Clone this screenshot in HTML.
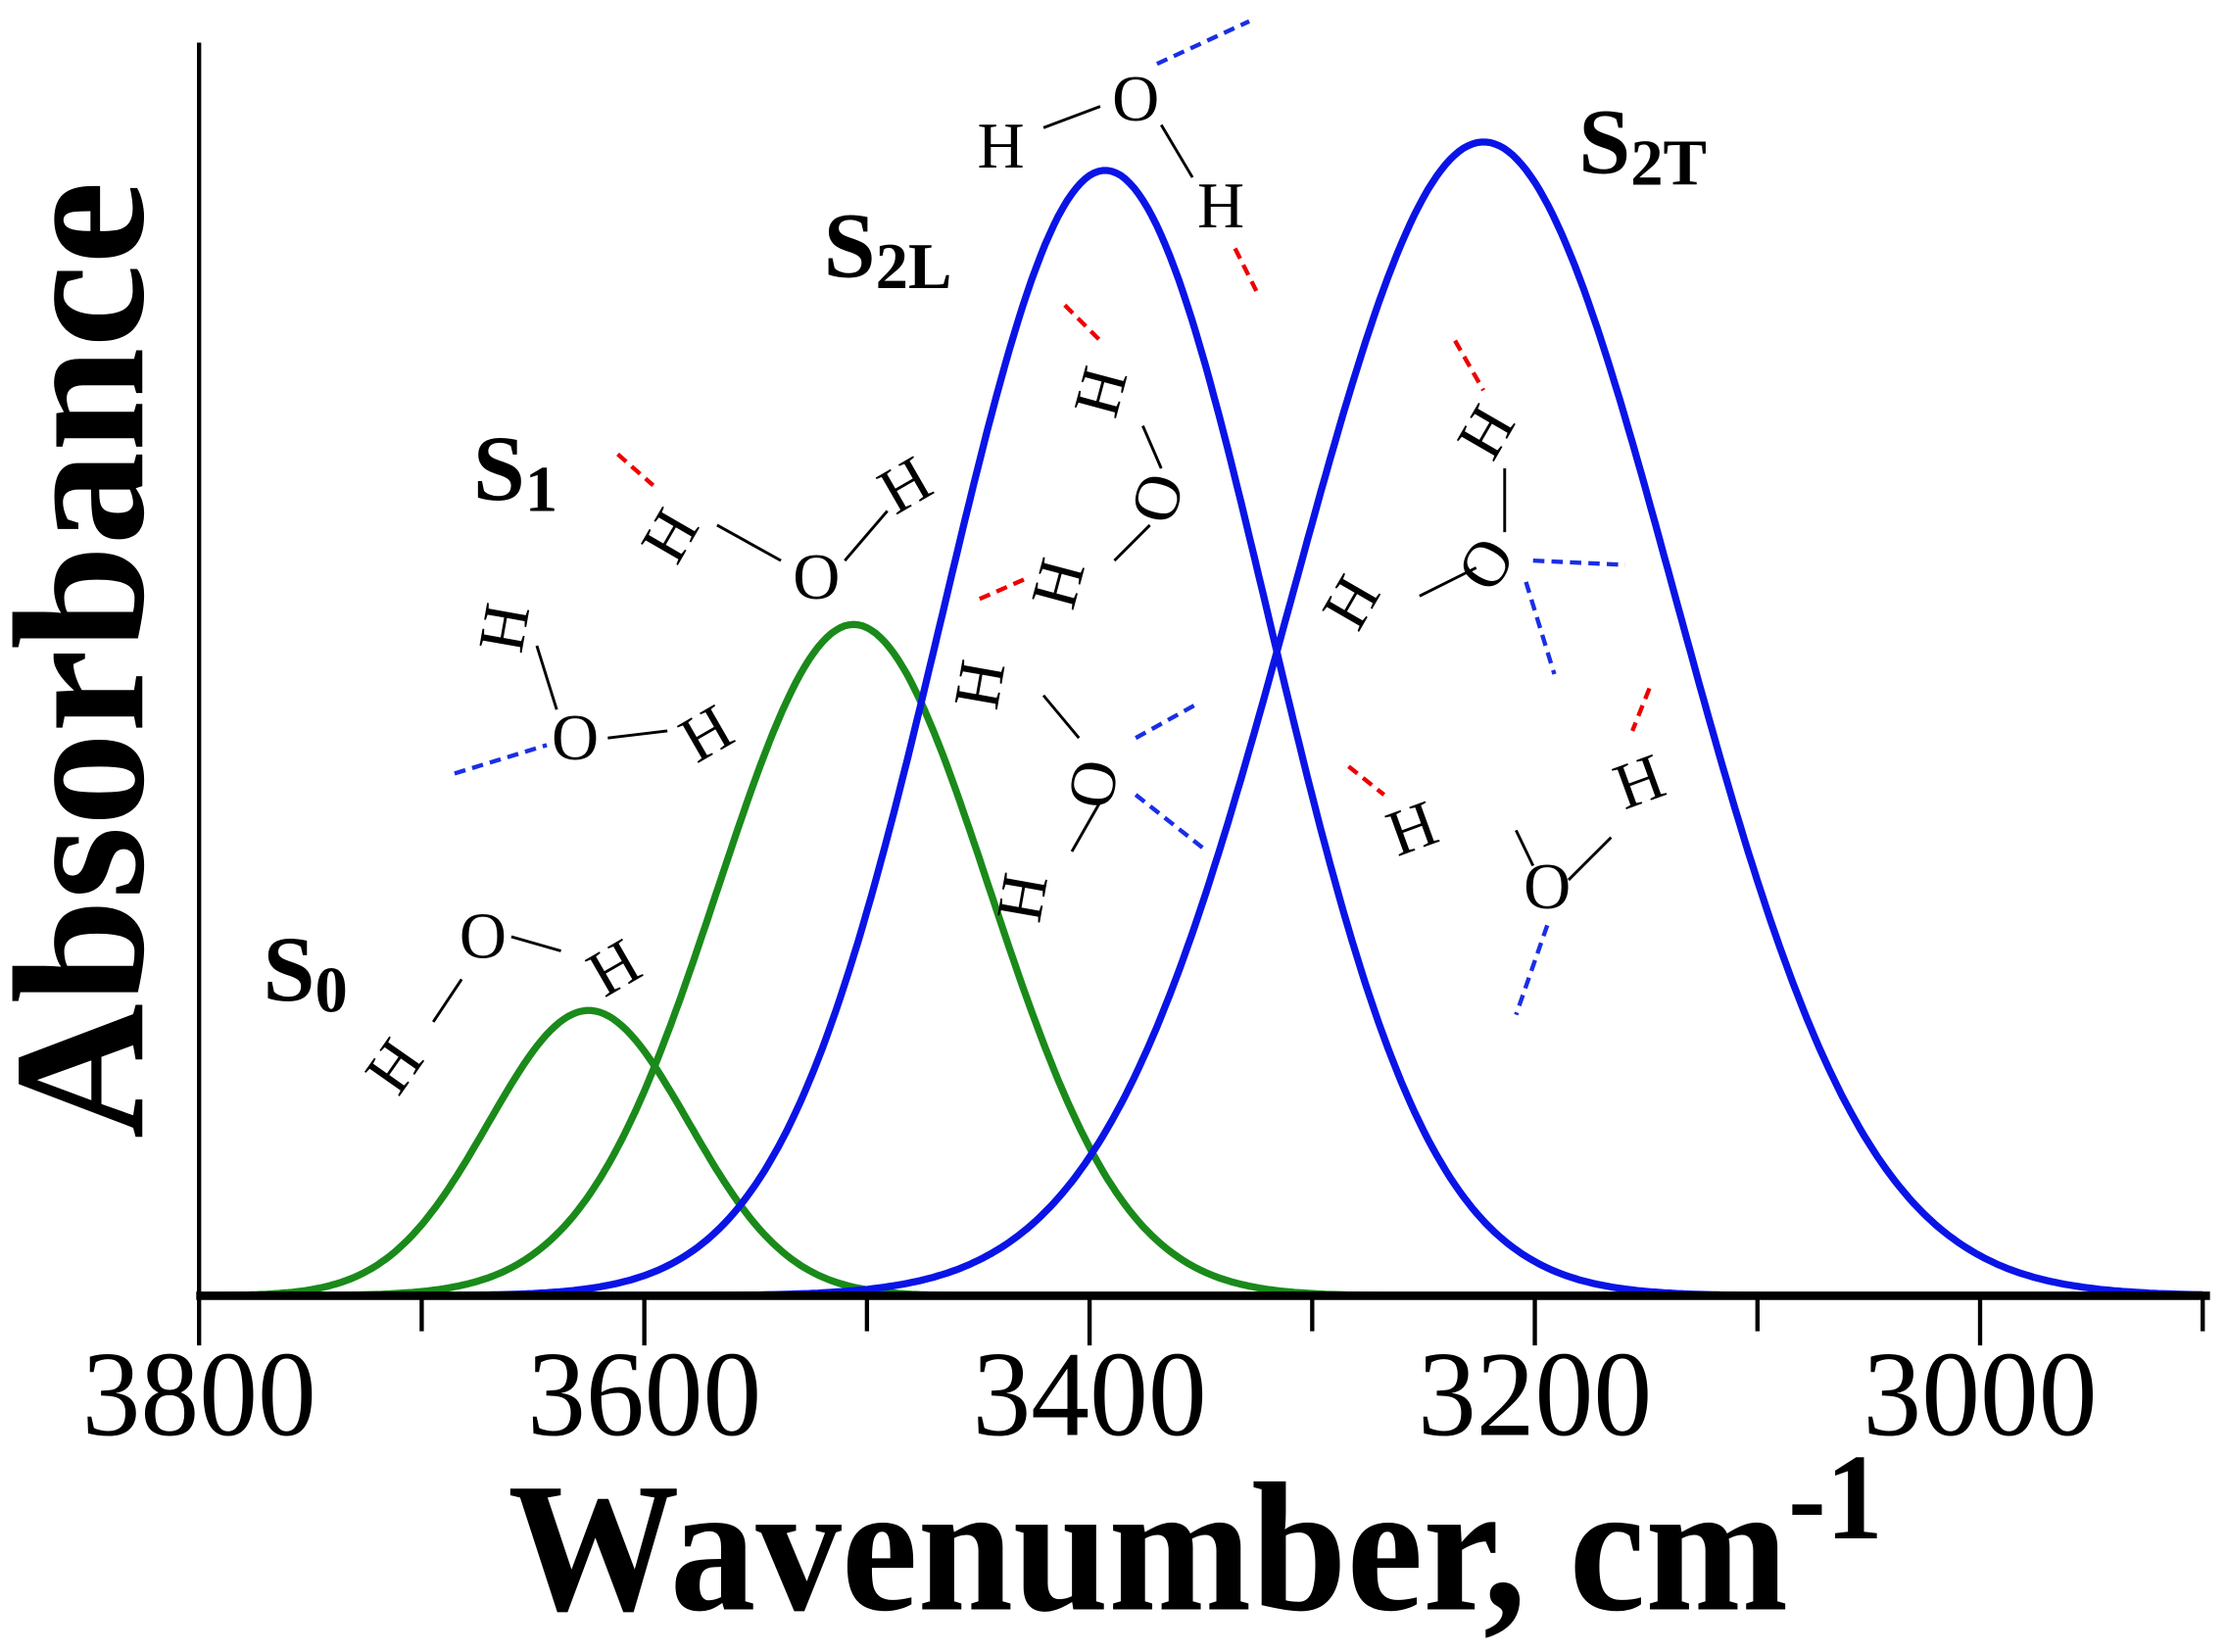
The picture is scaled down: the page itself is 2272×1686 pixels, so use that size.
<!DOCTYPE html>
<html><head><meta charset="utf-8"><style>
html,body{margin:0;padding:0;background:#fff;}
svg{display:block;}
text{font-family:"Liberation Serif",serif;}
</style></head><body>
<svg id="chart" width="2272" height="1686" viewBox="0 0 1568 1164" xmlns="http://www.w3.org/2000/svg">
<g id="curves"></g>
<line x1="140" y1="30" x2="140" y2="915" stroke="#000" stroke-width="3"/>
<line x1="138" y1="913" x2="1557" y2="913" stroke="#000" stroke-width="6"/>
<g id="ticks"></g>
<text transform="translate(100,465) rotate(-90)" text-anchor="middle" font-weight="bold" font-size="132" font-family="Liberation Serif,serif">Absorbance</text>
<text x="842" y="1134" text-anchor="middle" font-weight="bold" font-size="130" transform="translate(842,0) scale(0.93,1) translate(-842,0)">Wavenumber, cm<tspan font-size="86" dy="-50">-1</tspan></text>
<g font-weight="bold" font-size="66">
<text x="185" y="705">S<tspan font-size="46" dy="8">0</tspan></text>
<text x="333" y="352">S<tspan font-size="46" dy="8">1</tspan></text>
<text x="580" y="195">S<tspan font-size="46" dy="8">2L</tspan></text>
<text x="1112" y="122">S<tspan font-size="46" dy="8">2T</tspan></text>
</g>
<g id="mol" font-size="46" fill="#000"></g>
</svg>
<script>
// peak parameters
const peakNames=["S0","S1","S2L","S2T"];
const peakCenters=[3625,3506,3393,3223];
const peakHeights=[201,473,793,813];
const peakWidths=[45,61,73,86];
const peakColors=["#1a8a1a","#1a8a1a","#0a14e6","#0a14e6"];
const tickValues=[3800,3700,3600,3500,3400,3300,3200,3100,3000,2900];
const tickLabels=["3800","","3600","","3400","","3200","","3000",""];
const NS="http://www.w3.org/2000/svg";
const X=v=>140+(3800-v)/200*313.75;
const Y=a=>913-a;
const cg=document.getElementById('curves');
peakNames.forEach((n,i)=>{
  let d="";
  for(let v=3800;v>=2900;v-=2){
    const a=peakHeights[i]*Math.exp(-0.5*Math.pow((v-peakCenters[i])/peakWidths[i],2));
    d+=(v===3800?"M":"L")+X(v).toFixed(1)+","+Y(a).toFixed(1);
  }
  const p=document.createElementNS(NS,'path');
  p.setAttribute('d',d);p.setAttribute('fill','none');p.setAttribute('stroke',peakColors[i]);p.setAttribute('stroke-width','5');
  
  
  cg.appendChild(p);
});
const tg=document.getElementById('ticks');
tickValues.forEach((v,i)=>{
  const major=tickLabels[i]!=="";
  const l=document.createElementNS(NS,'line');
  l.setAttribute('x1',X(v));l.setAttribute('x2',X(v));l.setAttribute('y1',913);l.setAttribute('y2',major?948:938);
  l.setAttribute('stroke','#000');l.setAttribute('stroke-width','3');
  
  
  tg.appendChild(l);
  if(major){
    const t=document.createElementNS(NS,'text');
    t.setAttribute('x',0);t.setAttribute('y',0);t.setAttribute('text-anchor','middle');t.setAttribute('font-size','86');
    t.setAttribute('transform','translate('+X(v)+',1011) scale(0.96,1)');
    t.textContent=tickLabels[i];
    
    
    tg.appendChild(t);
  }
});
// molecule decorations
const mg=document.getElementById('mol');
const atoms=[["H",290,760,-55],["O",340,675,0],["H",440,695,-30],
["H",485,385,-60],["O",575,422,0],["H",645,355,-30],
["H",370,445,-80],["O",405,535,0],["H",505,530,-30],
["H",705,118,0],["O",800,85,0],["H",860,160,0],
["H",790,280,-75],["O",830,355,-75],["H",760,415,-75],
["H",705,485,-80],["O",785,555,-80],["H",735,635,-80],
["H",1060,312,-60],["O",1060,405,-60],["H",965,432,-60],
["H",1000,598,-20],["O",1090,640,0],["H",1160,565,-20]];
atoms.forEach(a=>{
  const t=document.createElementNS(NS,'text');
  t.setAttribute('text-anchor','middle');
  t.setAttribute('transform','translate('+a[1]+','+a[2]+') rotate('+a[3]+')');
  t.textContent=a[0];
  
  
  mg.appendChild(t);
});
const bonds=[[305,720,325,690,"#000",0],[360,660,395,670,"#000",0],
[505,370,550,395,"#000",0],[595,395,625,360,"#000",0],
[378,455,392,500,"#000",0],[428,520,470,515,"#000",0],
[735,90,775,75,"#000",0],[818,88,840,125,"#000",0],
[805,300,818,330,"#000",0],[810,370,785,395,"#000",0],
[735,490,760,520,"#000",0],[775,565,755,600,"#000",0],
[1060,330,1060,375],[1040,400,1000,420],[1068,585,1080,610],[1105,620,1135,590],
[435,320,460,342,"#e00",1],[320,545,385,525,"#1a2ee6",1],[815,45,880,15,"#1a2ee6",1],[870,175,885,205,"#e00",1],
[750,215,775,240,"#e00",1],[690,422,722,408,"#e00",1],[800,520,845,495,"#1a2ee6",1],[800,560,848,598,"#1a2ee6",1],
[1025,240,1045,275,"#e00",1],[1080,395,1145,398,"#1a2ee6",1],[1075,410,1095,475,"#1a2ee6",1],
[950,540,975,560,"#e00",1],[1162,485,1150,515,"#e00",1],[1090,652,1068,715,"#1a2ee6",1]];
bonds.forEach(b=>{
  const l=document.createElementNS(NS,'line');
  l.setAttribute('x1',b[0]);l.setAttribute('y1',b[1]);l.setAttribute('x2',b[2]);l.setAttribute('y2',b[3]);
  l.setAttribute('stroke',b[4]||"#000");l.setAttribute('stroke-width',b[5]?3:2);
  if(b[5])l.setAttribute('stroke-dasharray','8,5');
  
  
  mg.appendChild(l);
});
</script>
</body></html>
